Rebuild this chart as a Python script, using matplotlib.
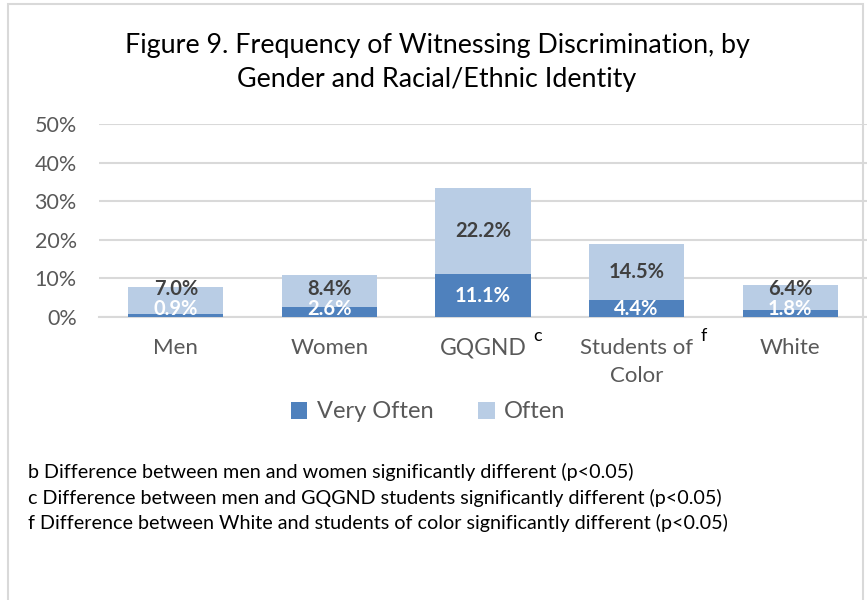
import matplotlib
matplotlib.use("Agg")
from matplotlib import pyplot as plt
from matplotlib.patches import Rectangle
import matplotlib.transforms as mtransforms
import numpy as np

plt.rcParams['font.family'] = ['Lato', 'DejaVu Sans']

# Data
groups = ["Men", "Women", "GQGND", "Students of\nColor", "White"]
very_often = [0.9, 2.6, 11.1, 4.4, 1.8]
often = [7.0, 8.4, 22.2, 14.5, 6.4]
sig_marks = {2: "c", 3: "f"}
footnotes = [
    "b Difference between men and women significantly different (p<0.05)",
    "c Difference between men and GQGND students significantly different (p<0.05)",
    "f Difference between White and students of color significantly different (p<0.05)",
]

c_vo = "#4F81BD"
c_of = "#B9CDE5"
gray = "#595959"

fig = plt.figure(figsize=(8.67, 6), dpi=100)
fig.patch.set_facecolor("white")
# chart border
fig.add_artist(Rectangle((8/867, -0.05), (863-8)/867, 1.05 - 4/600, transform=fig.transFigure,
                         fill=False, edgecolor="#D9D9D9", linewidth=1.5))

ax = fig.add_axes([99/867, 1-317/600, 768/867, 193/600])
x = np.arange(len(groups))
vo = np.array(very_often) / 100
of = np.array(often) / 100
ax.bar(x, vo, width=0.62, color=c_vo, label="Very Often", zorder=3)
ax.bar(x, of, width=0.62, bottom=vo, color=c_of, label="Often", zorder=3)

ax.set_xlim(-0.5, len(groups) - 0.5)
ax.set_ylim(0, 0.5)
ax.set_yticks(np.arange(0, 0.51, 0.1))
ax.set_yticklabels(["%d%%" % round(v*100) for v in np.arange(0, 0.51, 0.1)])
ax.grid(axis="y", color="#D9D9D9", linewidth=1.5, zorder=0)
for s in ["top", "right", "left"]:
    ax.spines[s].set_visible(False)
ax.spines["bottom"].set_color("#D9D9D9")
ax.spines["bottom"].set_linewidth(1.5)
ax.tick_params(axis="y", length=0, pad=16, labelsize=15.5, labelcolor=gray)
ax.tick_params(axis="x", length=0, pad=15, labelsize=16, labelcolor=gray)
ax.set_xticks(x)
ax.set_xticklabels(groups, linespacing=1.5, va="top")
ax.get_xticklabels()[2].set_fontsize(16.5)

# superscripts next to category names
trans = mtransforms.blended_transform_factory(ax.transData, ax.transAxes)
sup_dx = {2: 0.353, 3: 0.435}
for i, m in sig_marks.items():
    ax.text(i + sup_dx[i], -0.098, m, transform=trans, fontsize=13, color="black",
            ha="center", va="center")

# data labels (nudged apart where segments are thin)
for i in range(len(groups)):
    y_vo = max(vo[i] / 2, 0.022)
    y_of = max(vo[i] + of[i] / 2, y_vo + 0.05)
    ax.text(i, y_vo, "%.1f%%" % very_often[i], ha="center", va="center",
            fontsize=14.5, fontweight="bold", color="white", zorder=5)
    ax.text(i, y_of, "%.1f%%" % often[i], ha="center", va="center",
            fontsize=14.5, fontweight="bold", color="#404040", zorder=5)

fig.text(437/867, 1-63/600, "Figure 9. Frequency of Witnessing Discrimination, by\nGender and Racial/Ethnic Identity",
         ha="center", va="center", fontsize=19.4, color="black", linespacing=1.45)

leg = fig.legend(loc="center", bbox_to_anchor=(428/867, 1-412/600), ncol=2, frameon=False,
                 fontsize=17, handlelength=0.7, handleheight=0.7, handletextpad=0.4,
                 columnspacing=1.9, labelcolor=gray)

for k, t in enumerate(footnotes):
    fig.text(28/867, 1-(472 + 25.5*k)/600, t, ha="left", va="center", fontsize=14.2, color="black")

fig.savefig("out.png", dpi=100, facecolor="white")
